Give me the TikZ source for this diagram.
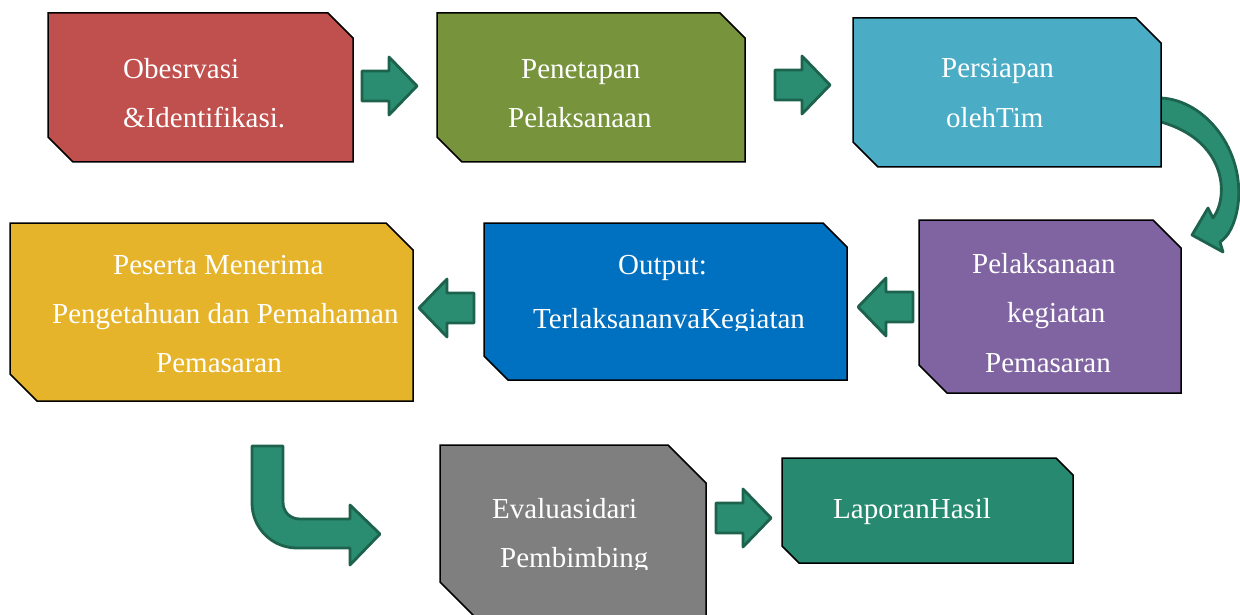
\documentclass[tikz,border=0pt]{standalone}
\usepackage{fontspec}
\setmainfont{Liberation Serif}
\definecolor{cred}{HTML}{C0504D}
\definecolor{cgreen}{HTML}{77933C}
\definecolor{cteal}{HTML}{4BACC6}
\definecolor{cyellow}{HTML}{E6B42A}
\definecolor{cblue}{HTML}{0070C0}
\definecolor{cpurple}{HTML}{8064A2}
\definecolor{cgray}{HTML}{7F7F7F}
\definecolor{cdkgreen}{HTML}{278A70}
\definecolor{afill}{HTML}{2A8C71}
\definecolor{aline}{HTML}{1D624D}
\tikzset{
  boxshape/.style={draw=black, line width=1.5pt, line join=miter},
  blockarrow/.style={draw=aline, fill=afill, line width=2.8pt, line join=round},
  txt/.style={text=white, inner sep=0pt, anchor=base west, font=\fontsize{29}{35}\selectfont}
}
% snip box: x1,y1,x2,y2,cut,colour
\newcommand\snipbox[6]{\draw[boxshape, fill=#6] (#1,#2) -- ({#3-#5},#2) -- (#3,{#2+#5}) -- (#3,#4) -- ({#1+#5},#4) -- (#1,{#4-#5}) -- cycle;}
% right block arrow: left x, centre y
\newcommand\rightarrowblock[2]{\draw[blockarrow] (#1,#2) ++(0,-15) -- ++(27,0) -- ++(0,-14) -- ++(28,29) -- ++(-28,29) -- ++(0,-14) -- ++(-27,0) -- cycle;}
% left block arrow: right x, centre y
\newcommand\leftarrowblock[2]{\draw[blockarrow] (#1,#2) ++(0,-15) -- ++(-27,0) -- ++(0,-14) -- ++(-28,29) -- ++(28,29) -- ++(0,-14) -- ++(27,0) -- cycle;}
\begin{document}
\begin{tikzpicture}[x=1pt,y=-1pt]
\useasboundingbox (0,0) rectangle (1240,615);
\begin{scope}
\clip (0,0) rectangle (1240,615);
% curved arrow (Persiapan -> Pelaksanaan kegiatan)
\draw[blockarrow] (1150,98) -- (1161,98) .. controls (1205,100) and (1245,150) .. (1238,205)
  .. controls (1235,225) and (1228,237) .. (1220,242) -- (1223,252) -- (1192,235) -- (1208,208) -- (1213,218)
  .. controls (1230,195) and (1225,140) .. (1161,122) -- (1150,122) -- cycle;
% bent arrow (Peserta -> Evaluasi)
\draw[blockarrow] (252,446) -- (283,446) -- (283,502) .. controls (283,512) and (290,519) .. (300,519)
  -- (350,519) -- (350,505) -- (380,534) -- (350,565) -- (350,548) -- (297,548)
  .. controls (272,548) and (252,528) .. (252,503) -- cycle;
% straight block arrows
\rightarrowblock{362}{86}
\rightarrowblock{775}{85}
\leftarrowblock{913}{307}
\leftarrowblock{474}{308}
\rightarrowblock{716}{518}
% boxes
\snipbox{48}{13}{353}{162}{25}{cred}
\snipbox{437}{13}{745}{162}{25}{cgreen}
\snipbox{853}{18}{1161}{167}{25}{cteal}
\snipbox{10}{223}{413}{401}{27}{cyellow}
\snipbox{484}{223}{847}{380}{24}{cblue}
\snipbox{919}{220}{1181}{393}{28}{cpurple}
\snipbox{440}{445}{706}{620}{38}{cgray}
\snipbox{782}{458}{1073}{563}{17}{cdkgreen}
% texts
\node[txt] (t1a) at (123,79) {Obesrvasi};
\node[txt] (t1b) at (123,128) {\&Identifikasi.};
\node[txt] (t2a) at (521,79) {Penetapan};
\node[txt] (t2b) at (508,128) {Pelaksanaan};
\node[txt] (t3a) at (941,78) {Persiapan};
\node[txt] (t3b) at (946,128) {olehTim};
\node[txt] (t4a) at (113,274) {Peserta Menerima};
\node[txt] (t4b) at (52,323) {Pengetahuan dan Pemahaman};
\node[txt] (t4c) at (156,372) {Pemasaran};
\node[txt] (t5a) at (618,274) {Output:};
\begin{scope}
\clip (484,290) rectangle (847,330);
\node[txt] (t5b) at (533,328) {TerlaksananvaKegiatan};
\end{scope}
\node[txt] (t6a) at (972,273) {Pelaksanaan};
\node[txt] (t6b) at (1007,322) {kegiatan};
\node[txt] (t6c) at (985,372) {Pemasaran};
\node[txt] (t7a) at (492,518) {Evaluasidari};
\begin{scope}
\clip (440,535) rectangle (706,569);
\node[txt] (t7b) at (500,567) {Pembimbing};
\end{scope}
\node[txt] (t8a) at (833,518) {LaporanHasil};
\end{scope}
\end{tikzpicture}
\end{document}
